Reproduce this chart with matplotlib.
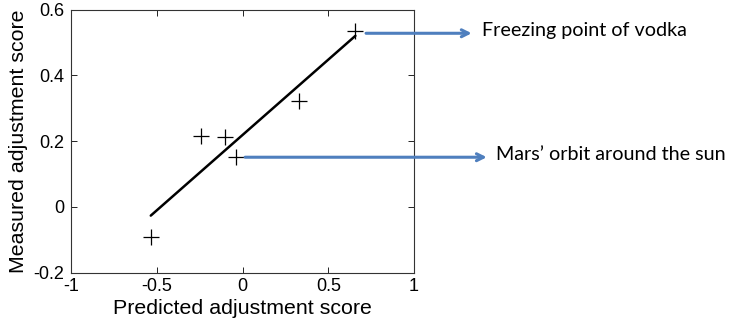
import numpy as np
import matplotlib
matplotlib.use("Agg")
import matplotlib.pyplot as plt

predicted = [0.658, 0.331, -0.242, -0.100, -0.040, -0.535]
measured = [0.534, 0.323, 0.217, 0.212, 0.151, -0.092]
xticks = [-1, -0.5, 0, 0.5, 1]
yticks = [-0.2, 0, 0.2, 0.4, 0.6]
xtick_labels = ["-1", "-0.5", "0", "0.5", "1"]
ytick_labels = ["-0.2", "0", "0.2", "0.4", "0.6"]
annotations = ["Freezing point of vodka", "Mars\u2019 orbit around the sun"]
annot_points = [0, 4]

fig = plt.figure(figsize=(7.3, 3.2), dpi=100)
ax = fig.add_axes([0.0973, 0.148, 0.4699, 0.822])

x = np.array(predicted)
y = np.array(measured)
slope, intercept = np.polyfit(x, y, 1)
xl = np.array([x.min(), x.max()])
ax.plot(xl, slope * xl + intercept, color="black", lw=1.8, solid_capstyle="round")
ax.plot(x, y, linestyle="none", marker="+", markersize=11, markeredgewidth=0.9, color="black")

ax.set_xlim(-1, 1)
ax.set_ylim(-0.2, 0.6)
ax.set_xticks(xticks)
ax.set_xticklabels(xtick_labels)
ax.set_yticks(yticks)
ax.set_yticklabels(ytick_labels)
ax.tick_params(direction="in", length=4, width=0.6, top=True, right=True,
               labelsize=13, colors="black")
ax.tick_params(axis="x", pad=4)
ax.tick_params(axis="y", pad=5)
for lab in ax.get_xticklabels() + ax.get_yticklabels():
    lab.set_family("Liberation Sans")
for s in ax.spines.values():
    s.set_linewidth(0.8)
    s.set_color("#333333")
ax.set_xlabel("Predicted adjustment score", family="Liberation Sans", fontsize=15.4, labelpad=3)
ax.set_ylabel("Measured adjustment score", family="Liberation Sans", fontsize=15.4, labelpad=4)

blue = "#4F7FBE"
arrow_tail_x = [0.72, 0.015]
arrow_head_x = [1.336, 1.424]
text_x = [1.395, 1.475]
for i, (idx, label) in enumerate(zip(annot_points, annotations)):
    px, py = x[idx], y[idx]
    ay = py - 0.006 if i == 0 else py
    ax.annotate("", xy=(arrow_head_x[i], ay), xytext=(arrow_tail_x[i], ay),
                xycoords="data", textcoords="data", annotation_clip=False,
                arrowprops=dict(arrowstyle="->,head_length=0.5,head_width=0.25",
                                color=blue, lw=2.2, shrinkA=0, shrinkB=0))
    ax.text(text_x[i], ay + 0.008, label, family="Lato", fontsize=14.2,
            va="center", ha="left", clip_on=False, color="black")

fig.savefig("out.png", dpi=100)
